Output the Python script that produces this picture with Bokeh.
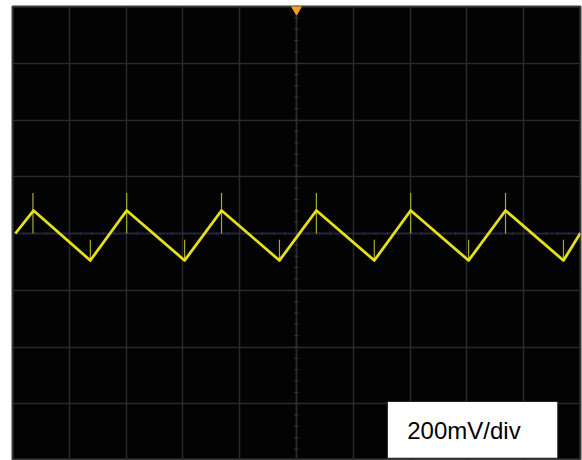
import numpy as np
from bokeh.plotting import figure
from bokeh.models import FixedTicker, Label
from bokeh.embed import file_html
from bokeh.resources import INLINE

# ---- data (x in divisions, y in mV; 200 mV/div) ----
trace_t = [0.05, 0.37, 1.37, 2.01, 3.03, 3.68, 4.70, 5.35, 6.37, 7.01, 8.03, 8.68, 9.70, 10.0]
trace_v = [0, 81, -95, 81, -95, 81, -95, 81, -95, 81, -95, 81, -95, 2]

peak_t = [0.36, 2.01, 3.68, 5.35, 7.01, 8.68]
peak_spike_top = [143, 143, 143, 143, 143, 143]
peak_spike_bot = [0, 0, 0, 0, 0, 0]

trough_t = [1.37, 3.03, 4.70, 6.37, 8.03, 9.70]
trough_spike_top = [-22, -22, -22, -22, -22, -22]
trough_spike_bot = [-92, -92, -92, -92, -92, -92]

mv_per_div = 200
scale_label = "200mV/div"
trigger_t = 5.0

y_top = 4 * mv_per_div
y_bot = -4 * mv_per_div

p = figure(width=582, height=460, x_range=(0, 10), y_range=(y_bot, y_top),
           output_backend="svg", toolbar_location=None,
           min_border_left=12, min_border_right=2, min_border_top=6, min_border_bottom=0)
p.xaxis.visible = False
p.yaxis.visible = False
p.background_fill_color = "#030303"
p.border_fill_color = "white"
p.outline_line_color = "#3a3a3a"
p.outline_line_width = 2

p.xgrid.ticker = FixedTicker(ticks=list(range(0, 11)))
p.ygrid.ticker = FixedTicker(ticks=[k * mv_per_div for k in range(-4, 5)])
p.xgrid.grid_line_color = "#2a2a2a"
p.ygrid.grid_line_color = "#2a2a2a"
p.xgrid.grid_line_width = 1.5
p.ygrid.grid_line_width = 1.5

# center cross with minor ticks
p.segment(x0=[trigger_t], x1=[trigger_t], y0=[y_bot], y1=[y_top], line_color="#2a2a2a", line_width=1.5)
p.segment(x0=[0], x1=[10], y0=[0], y1=[0], line_color="#24243c", line_width=1.5)
mt_x = np.arange(0, 10.01, 0.2)
p.segment(x0=mt_x, x1=mt_x, y0=[-6] * len(mt_x), y1=[6] * len(mt_x), line_color="#2c2c48", line_width=1)
mt_y = np.arange(-4, 4.01, 0.2) * mv_per_div
p.segment(x0=[trigger_t - 0.04] * len(mt_y), x1=[trigger_t + 0.04] * len(mt_y), y0=mt_y, y1=mt_y,
          line_color="#353535", line_width=1)

# spikes
p.segment(x0=peak_t, x1=peak_t, y0=peak_spike_bot, y1=peak_spike_top, line_color="#a8a830", line_width=1.2)
p.segment(x0=trough_t, x1=trough_t, y0=trough_spike_bot, y1=trough_spike_top, line_color="#a8a830", line_width=1.2)

# trace
p.line(trace_t, trace_v, line_color="#e4e01c", line_width=2.8, line_join="round")

# trigger marker
p.scatter([trigger_t], [y_top - 10], marker="inverted_triangle", size=10,
          fill_color="#f0a020", line_color="#f0a020")

# scale box
p.quad(left=[6.60], right=[9.60], top=[-2.96 * mv_per_div], bottom=[-3.96 * mv_per_div],
       fill_color="white", line_color="#222222", line_width=1)
p.add_layout(Label(x=6.95, y=-3.47 * mv_per_div, text=scale_label, text_font="Liberation Sans",
                   text_font_size="24px", text_color="black", text_baseline="middle"))

open("out.html", "w").write(file_html(p, INLINE))
